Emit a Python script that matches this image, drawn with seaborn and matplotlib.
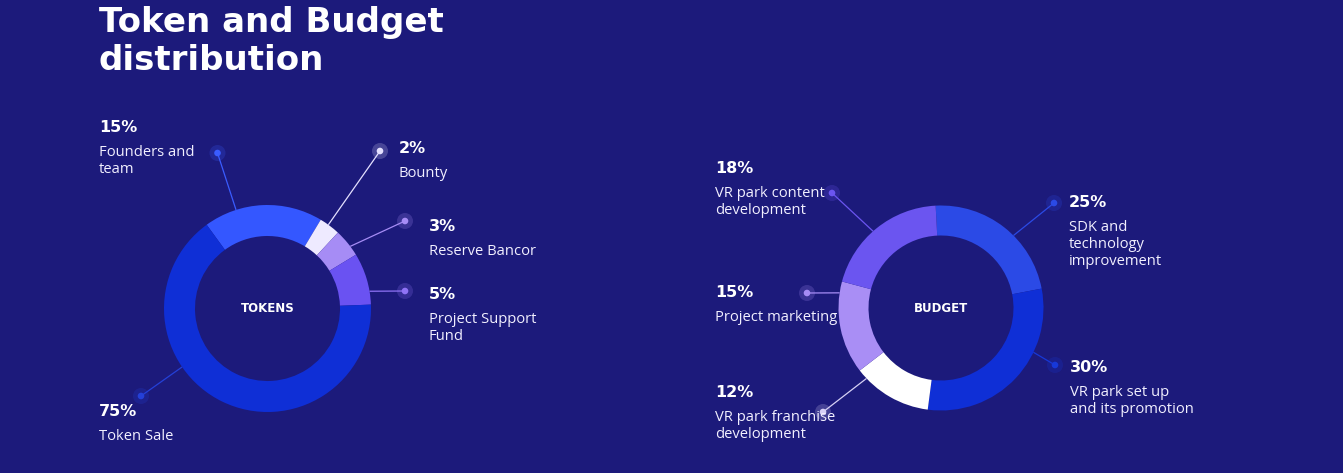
import numpy as np
import matplotlib
matplotlib.use("Agg")
import matplotlib.pyplot as plt
from matplotlib.patches import Circle
import seaborn as sns

# ---------------- data ----------------
token_labels = ["Founders and\nteam", "Bounty", "Reserve Bancor", "Project Support\nFund", "Token Sale"]
token_pct = [15, 2, 3, 5, 75]
# arc shares as drawn in the reference picture (clockwise from the Founders wedge)
token_arc = [18.6, 3.3, 4.4, 8.1, 65.6]

budget_labels = ["SDK and\ntechnology\nimprovement", "VR park set up\nand its promotion",
                 "VR park franchise\ndevelopment", "Project marketing", "VR park content\ndevelopment"]
budget_pct = [25, 30, 12, 15, 18]
budget_arc = [22.8, 30.1, 12.5, 14.6, 20.0]

title = "Token and Budget\ndistribution"

# ---------------- style ----------------
BG = "#1c1a7b"
sns.set_theme(style="white", rc={"figure.facecolor": BG, "axes.facecolor": BG})
plt.rcParams["font.family"] = ["DejaVu Sans"]

token_colors = sns.color_palette(["#3457ff", "#eeeaff", "#a68cf5", "#6a52f2", "#0f2fd6"])
budget_colors = sns.color_palette(["#2b4ae6", "#0f2fd6", "#ffffff", "#a98ef5", "#6b55f0"])

W, H = 1343, 473
fig = plt.figure(figsize=(W / 100, H / 100), dpi=100)
ax = fig.add_axes([0, 0, 1, 1])
ax.set_facecolor(BG)

def Y(y):
    return H - y

# ---------------- layout ----------------
donuts = [
    dict(cx=267.5, cy=308.5, r=103.5, w=31, start=126, arcs=token_arc, colors=token_colors,
         center="TOKENS",
         labels=token_labels, pct=token_pct,
         # (anchor angle deg, dot x, dot y, line colour, text x, pct baseline)
         callouts=[(107.7, 217.5, 153, "#3a5cff", 99, 132),
                   (54.0, 380, 151, "#e4e0ff", 399, 153),
                   (36.9, 405, 221, "#a68cf5", 429, 231),
                   (9.6, 405, 291, "#8f73f5", 429, 299),
                   (214.4, 141, 396, "#2440d8", 99, 416)]),
    dict(cx=941, cy=308, r=102.5, w=30, start=93, arcs=budget_arc, colors=budget_colors,
         center="BUDGET",
         labels=budget_labels, pct=budget_pct,
         callouts=[(45.0, 1054, 203, "#2b4ae6", 1069, 207),
                   (-25.6, 1055, 365, "#1738d8", 1070, 372),
                   (223.4, 823, 412, "#d6d0f5", 715, 397),
                   (171.5, 807, 293, "#a68cf5", 715, 297),
                   (131.5, 832, 193, "#6b55f0", 715, 173)]),
]

for d in donuts:
    ax.pie(d["arcs"], colors=d["colors"], startangle=d["start"], counterclock=False,
           center=(d["cx"], Y(d["cy"])), radius=d["r"],
           wedgeprops=dict(width=d["w"], linewidth=0, antialiased=True))
    ax.text(d["cx"], Y(d["cy"]), d["center"], color="white", fontsize=8.5,
            fontweight="bold", ha="center", va="center")
    for (ang, dx, dy, lc, tx, pb), lab, p in zip(d["callouts"], d["labels"], d["pct"]):
        a = np.deg2rad(ang)
        x0 = d["cx"] + d["r"] * np.cos(a)
        y0 = Y(d["cy"]) + d["r"] * np.sin(a)
        ax.plot([x0, dx], [y0, Y(dy)], color=lc, lw=0.9, solid_capstyle="butt", zorder=3)
        ax.add_patch(Circle((dx, Y(dy)), 8, color=lc, alpha=0.22, lw=0, zorder=4))
        ax.add_patch(Circle((dx, Y(dy)), 3.3, color=lc, lw=0, zorder=5))
        ax.text(tx, Y(pb), f"{p}%", color="white", fontsize=11.5, fontweight="heavy",
                ha="left", va="baseline", zorder=6)
        for i, line in enumerate(lab.split("\n")):
            ax.text(tx, Y(pb + 24 + 17 * i), line, color="#f2f0ff", fontsize=10.6,
                    family=["Open Sans", "DejaVu Sans"], ha="left", va="baseline", zorder=6)

for i, line in enumerate(title.split("\n")):
    ax.text(99, Y(32 + 38 * i), line, color="white", fontsize=24.5, fontweight="heavy",
            ha="left", va="baseline")

ax.set_xlim(0, W)
ax.set_ylim(0, H)
ax.set_aspect("auto")
ax.axis("off")

fig.savefig("out.png", dpi=100, facecolor=BG)
